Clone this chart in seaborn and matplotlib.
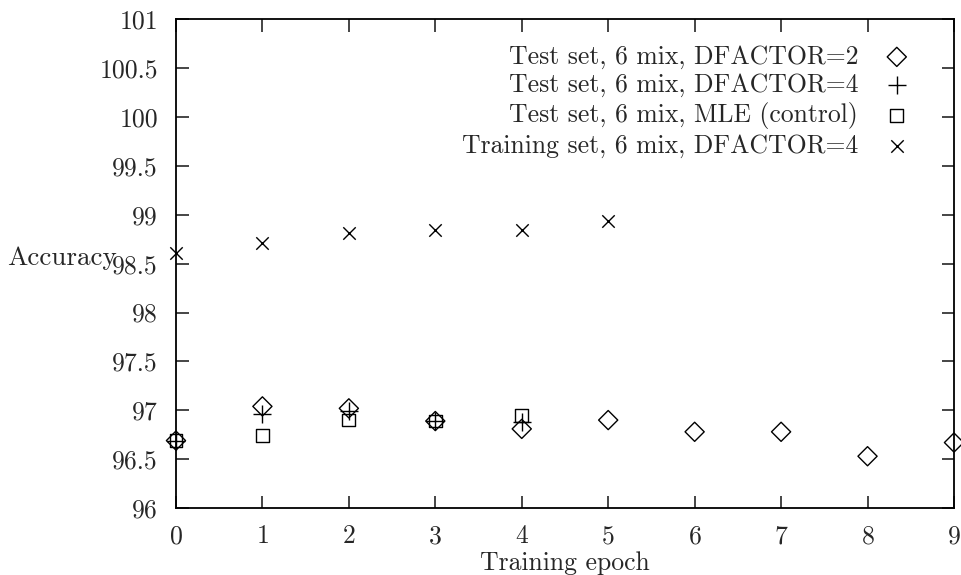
import pandas as pd
import numpy as np
import matplotlib
matplotlib.use('Agg')
import matplotlib.pyplot as plt
import seaborn as sns

# values
epochs_df2 = [0, 1, 2, 3, 4, 5, 6, 7, 8, 9]
test_df2 = [96.69, 97.04, 97.02, 96.89, 96.81, 96.90, 96.78, 96.78, 96.53, 96.67]

epochs_df4 = [0, 1, 2, 3, 4]
test_df4 = [96.69, 96.96, 96.99, 96.89, 96.88]

epochs_mle = [0, 1, 2, 3, 4]
test_mle = [96.69, 96.74, 96.90, 96.89, 96.95]

epochs_train = [0, 1, 2, 3, 4, 5]
train_df4 = [98.61, 98.71, 98.81, 98.85, 98.85, 98.94]

labels = ['Test set, 6 mix, DFACTOR=2', 'Test set, 6 mix, DFACTOR=4',
          'Test set, 6 mix, MLE (control)', 'Training set, 6 mix, DFACTOR=4']

FS = 18.5
sns.set_theme(style='ticks')
plt.rcParams['font.family'] = ['cmr10', 'DejaVu Serif']
plt.rcParams['axes.formatter.use_mathtext'] = True
plt.rcParams['font.size'] = FS

fig = plt.figure(figsize=(9.61, 5.75), dpi=100)
ax = fig.add_axes([0.1831, 0.1165, 0.8096, 0.8496])

series = [
    (epochs_df2, test_df2, 'D', 95, True),
    (epochs_df4, test_df4, '+', 150, False),
    (epochs_mle, test_mle, 's', 85, True),
    (epochs_train, train_df4, 'x', 80, False),
]
for (xs, ys, mk, sz, hollow), lab in zip(series, labels):
    df = pd.DataFrame({'epoch': xs, 'acc': ys})
    if hollow:
        sns.scatterplot(data=df, x='epoch', y='acc', marker=mk, s=sz, ax=ax,
                        facecolors='none', edgecolor='black', linewidth=1.0,
                        label=lab, clip_on=False, zorder=3)
    else:
        sns.scatterplot(data=df, x='epoch', y='acc', marker=mk, s=sz, ax=ax,
                        color='black', linewidth=1.0, label=lab,
                        clip_on=False, zorder=3)

ax.set_xlim(0, 9)
ax.set_ylim(96, 101)
ax.set_xticks(range(0, 10))
ax.set_yticks(np.arange(96, 101.01, 0.5))
ax.set_yticklabels(['96', '96.5', '97', '97.5', '98', '98.5', '99', '99.5',
                    '100', '100.5', '101'])
ax.tick_params(direction='in', length=9, width=1.2, top=True, right=True,
               labelsize=FS)
ax.tick_params(axis='x', pad=12)
ax.tick_params(axis='y', pad=13)
for sp in ax.spines.values():
    sp.set_linewidth(1.3)
    sp.set_color('black')

ax.set_xlabel('Training epoch', fontsize=FS, labelpad=2)
ax.set_ylabel('Accuracy', fontsize=19.5, rotation=0, ha='right', va='center')
ax.yaxis.set_label_coords(-0.076, 0.511)

ax.legend(loc='upper right', markerfirst=False, frameon=False, fontsize=FS,
          bbox_to_anchor=(0.943, 0.948), handlelength=1.0, handletextpad=1.0,
          labelspacing=0.18, borderaxespad=0, borderpad=0)

fig.savefig('out.png', dpi=100)
